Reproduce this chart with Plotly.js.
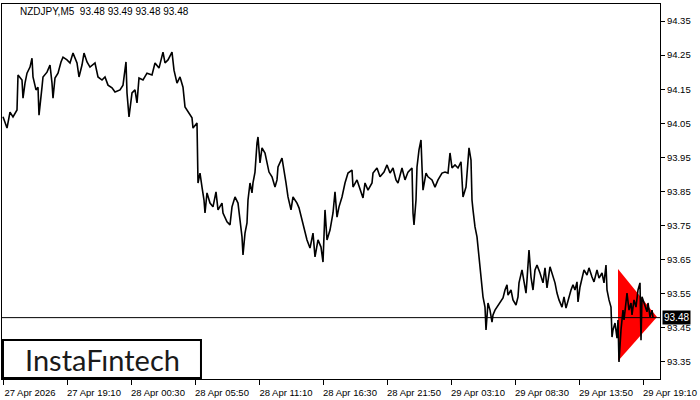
<!DOCTYPE html>
<html>
<head>
<meta charset="utf-8">
<script src="https://cdn.plot.ly/plotly-3.0.1.min.js"></script>
<style>html,body{margin:0;padding:0;background:#fff;}#chart{width:700px;height:400px;}</style>
</head>
<body>
<div id="chart"></div>
<script>
// bar index (M5 bars) and close prices
const barIndex = [0,4,7,10,14,15,19,20,22,24,27,29,30,33,35,36,39,40,44,47,49,50,52,55,58,60,64,67,70,74,76,79,81,84,87,92,95,99,102,105,109,112,117,120,123,124,126,129,132,134,136,140,144,149,152,156,160,162,165,169,171,174,177,180,182,185,189,190,194,195,197,199,201,202,204,207,210,213,215,219,220,224,227,229,232,235,237,239,240,242,244,245,247,249,250,252,254,255,257,259,262,264,266,269,272,274,275,279,281,283,285,288,290,294,296,299,302,304,307,310,312,315,318,320,322,324,327,330,332,334,336,339,342,345,349,350,354,357,360,362,365,369,370,374,377,381,384,387,390,393,395,399,402,405,409,410,411,413,414,416,418,419,420,423,425,429,432,435,439,442,445,447,449,452,455,458,459,460,463,465,466,468,469,470,472,474,475,477,479,480,482,483,485,487,489,490,492,494,497,500,502,504,505,508,510,513,515,516,519,521,523,524,526,528,530,532,534,537,540,542,544,547,550,552,554,556,559,561,563,565,568,570,572,574,575,577,579,581,584,586,589,591,594,596,599,601,603,604,606,608,609,610,612,614,615,616,618,620,621,623,624,626,628,629,631,633,635,637,638,639,640,642,644,645,647,649,650];
const closePrice = [94.069,94.036,94.083,94.069,94.089,94.192,94.177,94.124,94.168,94.197,94.215,94.241,94.186,94.148,94.156,94.074,94.156,94.186,94.200,94.221,94.168,94.124,94.183,94.197,94.230,94.244,94.236,94.227,94.256,94.227,94.186,94.221,94.256,94.230,94.215,94.227,94.186,94.177,94.186,94.162,94.154,94.142,94.148,94.162,94.230,94.139,94.069,94.139,94.148,94.110,94.183,94.177,94.197,94.192,94.227,94.212,94.259,94.227,94.236,94.259,94.206,94.168,94.186,94.156,94.098,94.083,94.066,94.036,94.051,93.875,93.904,93.863,93.825,93.787,93.846,93.816,93.805,93.849,93.796,93.816,93.787,93.761,93.752,93.805,93.834,93.816,93.766,93.717,93.664,93.728,93.758,93.825,93.875,93.846,93.875,93.907,93.992,94.010,93.934,93.978,93.963,93.934,93.907,93.893,93.863,93.884,93.922,93.948,93.904,93.875,93.834,93.796,93.834,93.816,93.802,93.766,93.731,93.708,93.684,93.728,93.658,93.708,93.687,93.643,93.796,93.708,93.737,93.787,93.849,93.775,93.805,93.834,93.875,93.904,93.913,93.863,93.884,93.854,93.831,93.875,93.854,93.875,93.904,93.919,93.893,93.907,93.928,93.904,93.919,93.884,93.875,93.919,93.884,93.907,93.919,93.787,93.752,93.825,93.922,93.972,94.001,93.922,93.854,93.904,93.893,93.884,93.863,93.884,93.904,93.907,93.904,93.963,93.919,93.928,93.919,93.937,93.875,93.834,93.863,93.934,93.978,93.942,93.825,93.796,93.746,93.717,93.687,93.640,93.570,93.541,93.511,93.444,93.523,93.502,93.467,93.488,93.502,93.511,93.526,93.538,93.561,93.576,93.546,93.561,93.532,93.517,93.541,93.582,93.620,93.590,93.552,93.590,93.678,93.599,93.561,93.620,93.634,93.611,93.582,93.626,93.567,93.629,93.599,93.582,93.552,93.532,93.511,93.541,93.508,93.532,93.561,93.576,93.561,93.585,93.526,93.570,93.599,93.620,93.605,93.626,93.599,93.585,93.620,93.596,93.611,93.582,93.634,93.561,93.532,93.511,93.423,93.444,93.464,93.420,93.473,93.350,93.444,93.502,93.473,93.532,93.552,93.502,93.523,93.488,93.532,93.511,93.561,93.582,93.414,93.541,93.532,93.511,93.497,93.523,93.482,93.502,93.480];

// symmetrical triangle pattern (bar index, price)
const triangleX = [615, 615, 654];
const triangleY = [93.623, 93.353, 93.482];

const currentPrice = 93.48;
const chartTitle = "NZDJPY,M5\u00a0\u00a093.48 93.49 93.48 93.48";

const xTickVals = [0,64,128,192,256,320,384,448,512,576,640];
const xTickText = ["27 Apr 2026","27 Apr 19:10","28 Apr 00:30","28 Apr 05:50","28 Apr 11:10","28 Apr 16:30","28 Apr 21:50","29 Apr 03:10","29 Apr 08:30","29 Apr 13:50","29 Apr 19:10"];
const yTickVals = [93.35,93.45,93.55,93.65,93.75,93.85,93.95,94.05,94.15,94.25,94.35];
const yTickText = ["93.35","93.45","93.55","93.65","93.75","93.85","93.95","94.05","94.15","94.25","94.35"];

const tickFont = {family: "Liberation Sans, Arial, sans-serif", size: 9.5, color: "#000"};

const traces = [
  {x: triangleX, y: triangleY, type: "scatter", mode: "lines", fill: "toself",
   fillcolor: "#ff0000", line: {color: "#ff0000", width: 0}, hoverinfo: "skip"},
  {x: barIndex, y: closePrice, type: "scatter", mode: "lines",
   line: {color: "#000", width: 1.6}, hoverinfo: "skip"}
];

const layout = {
  width: 700, height: 400,
  margin: {l: 2, r: 40, t: 4, b: 21},
  paper_bgcolor: "#fff", plot_bgcolor: "#fff",
  showlegend: false,
  xaxis: {range: [-1, 657], showgrid: false, zeroline: false,
    showline: true, mirror: true, linecolor: "#000", linewidth: 1,
    tickmode: "array", tickvals: xTickVals, ticktext: xTickText,
    ticks: "outside", ticklen: 5, tickcolor: "#000", tickwidth: 1,
    ticklabelshift: 27, tickfont: tickFont, fixedrange: true},
  yaxis: {range: [93.30, 94.40], side: "right", showgrid: false, zeroline: false,
    showline: true, mirror: true, linecolor: "#000", linewidth: 1,
    tickmode: "array", tickvals: yTickVals, ticktext: yTickText,
    ticks: "outside", ticklen: 4, tickcolor: "#000", tickwidth: 1,
    tickfont: tickFont, fixedrange: true},
  shapes: [
    {type: "line", xref: "paper", x0: 0, x1: 1, yref: "y", y0: currentPrice, y1: currentPrice,
     line: {color: "#000", width: 1}},
    {type: "rect", xref: "paper", yref: "paper", x0: 0.0015, x1: 0.3024, y0: 0.003, y1: 0.104,
     fillcolor: "#fff", line: {color: "#000", width: 2}}
  ],
  annotations: [
    {xref: "paper", yref: "paper", x: 0.024, y: 0.979, xanchor: "left", yanchor: "middle",
     text: chartTitle, showarrow: false, font: {family: "Liberation Sans, Arial, sans-serif", size: 10, color: "#000"}},
    {xref: "paper", yref: "y", x: 1, y: currentPrice, xanchor: "left", yanchor: "middle", xshift: 2,
     text: currentPrice.toFixed(2), showarrow: false, bgcolor: "#000", borderpad: 1,
     font: {family: "Liberation Sans, Arial, sans-serif", size: 10, color: "#fff"}},
    {xref: "paper", yref: "paper", x: 0.152, y: 0.053, xanchor: "center", yanchor: "middle",
     text: "InstaF\u0131ntech", showarrow: false,
     font: {family: "Lato, Inter, sans-serif", size: 29, color: "#1a1a1a", weight: 400}}
  ]
};

Plotly.newPlot("chart", traces, layout, {staticPlot: true, displayModeBar: false});
</script>
</body>
</html>
